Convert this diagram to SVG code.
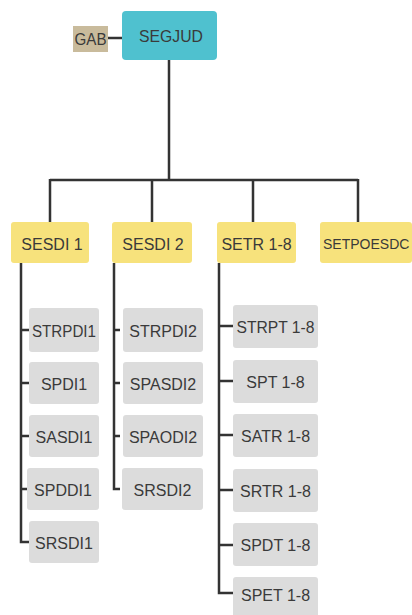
<svg xmlns="http://www.w3.org/2000/svg" width="412" height="615" viewBox="0 0 412 615">
<style>
text{font-family:"Liberation Sans",Arial,sans-serif;font-size:16px;fill:#3a3a3a;text-anchor:middle;dominant-baseline:central}
.top{fill:#4fc1cf}
.gab{fill:#c9bb9c}
.y{fill:#f7e27c}
.g{fill:#dcdcdc}
.c{stroke:#333;stroke-width:2.5;fill:none}
</style>
<rect width="412" height="615" fill="#fff"/>
<g id="connectors">
<path class="c" d="M108 38H122"/>
<path class="c" d="M169 60V180M50 180H358M50 179V222M152 179V222M253 179V222M358 179V222"/>
<path class="c" d="M21 263V542H29M21 330H29M21 383H29M21 436H29M21 489H29"/>
<path class="c" d="M114 263V489H120M114 330H120M114 383H120M114 436H120"/>
<path class="c" d="M219 263V593H233M219 326H233M219 381H233M219 435H233M219 490H233M219 545H233"/>
</g>
<g id="GAB"><rect class="gab" x="73" y="26" width="35" height="26"/><text x="90.5" y="39.5" textLength="32" lengthAdjust="spacingAndGlyphs">GAB</text></g>
<g id="SEGJUD"><rect class="top" x="122" y="11" width="95" height="49" rx="4"/><text x="171" y="36" style="font-size:17px" textLength="64" lengthAdjust="spacingAndGlyphs">SEGJUD</text></g>
<g id="SESDI1"><rect class="y" x="11" y="222" width="78" height="41" rx="3"/><text x="52" y="244">SESDI 1</text></g>
<g id="SESDI2"><rect class="y" x="112" y="222" width="80" height="41" rx="3"/><text x="153" y="244">SESDI 2</text></g>
<g id="SETR"><rect class="y" x="217" y="222" width="79" height="41" rx="3"/><text x="256.5" y="244">SETR 1-8</text></g>
<g id="SETPOESDC"><rect class="y" x="320" y="222" width="92" height="41" rx="3"/><text x="323" y="244" style="text-anchor:start;font-size:14px">SETPOESDC</text></g>
<g id="STRPDI1"><rect class="g" x="29" y="308" width="70" height="44" rx="3"/><text x="64" y="331" textLength="64" lengthAdjust="spacingAndGlyphs">STRPDI1</text></g>
<g id="SPDI1"><rect class="g" x="29" y="362" width="70" height="42" rx="3"/><text x="64" y="384">SPDI1</text></g>
<g id="SASDI1"><rect class="g" x="29" y="415" width="70" height="42" rx="3"/><text x="64" y="437">SASDI1</text></g>
<g id="SPDDI1"><rect class="g" x="27" y="468" width="72" height="42" rx="3"/><text x="63" y="490">SPDDI1</text></g>
<g id="SRSDI1"><rect class="g" x="29" y="521" width="70" height="42" rx="3"/><text x="64" y="543">SRSDI1</text></g>
<g id="STRPDI2"><rect class="g" x="123" y="308" width="80" height="44" rx="3"/><text x="163" y="331">STRPDI2</text></g>
<g id="SPASDI2"><rect class="g" x="123" y="362" width="80" height="42" rx="3"/><text x="163" y="384">SPASDI2</text></g>
<g id="SPAODI2"><rect class="g" x="123" y="415" width="80" height="42" rx="3"/><text x="163" y="437">SPAODI2</text></g>
<g id="SRSDI2"><rect class="g" x="122" y="468" width="81" height="42" rx="3"/><text x="162.5" y="490">SRSDI2</text></g>
<g id="STRPT"><rect class="g" x="233" y="305" width="85" height="43" rx="3"/><text x="275.5" y="327.5" textLength="78" lengthAdjust="spacingAndGlyphs">STRPT 1-8</text></g>
<g id="SPT"><rect class="g" x="233" y="360" width="85" height="43" rx="3"/><text x="275.5" y="382.5">SPT 1-8</text></g>
<g id="SATR"><rect class="g" x="233" y="414" width="85" height="43" rx="3"/><text x="275.5" y="436.5">SATR 1-8</text></g>
<g id="SRTR"><rect class="g" x="233" y="469" width="85" height="43" rx="3"/><text x="275.5" y="491.5">SRTR 1-8</text></g>
<g id="SPDT"><rect class="g" x="233" y="523" width="85" height="43" rx="3"/><text x="275.5" y="545.5">SPDT 1-8</text></g>
<g id="SPET"><rect class="g" x="233" y="577" width="85" height="43" rx="3"/><text x="275.5" y="595">SPET 1-8</text></g>
</svg>
